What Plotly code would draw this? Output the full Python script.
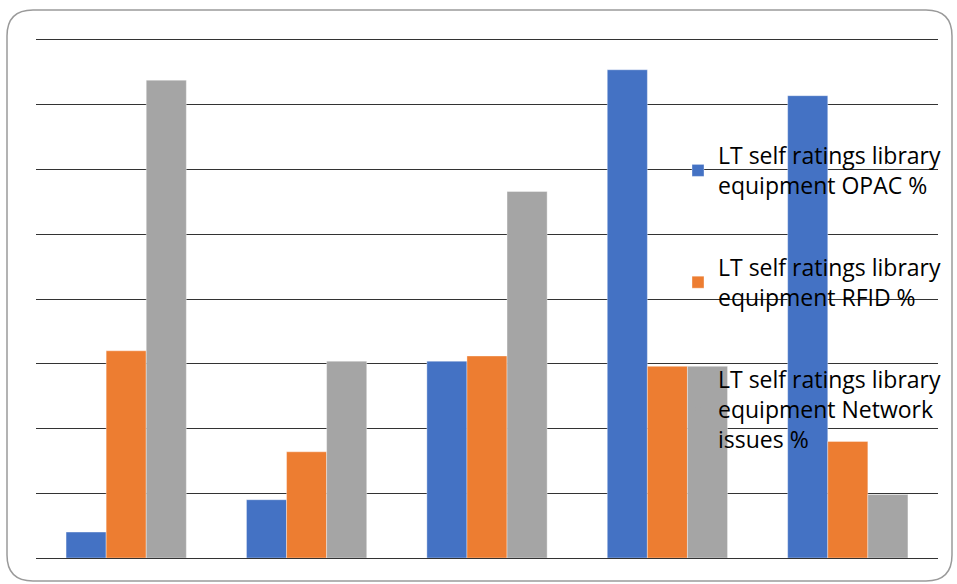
import plotly.graph_objects as go

# Self-rating levels (no tick labels shown on the axis)
levels = ["1", "2", "3", "4", "5"]

opac_pct = [2.0, 4.5, 15.2, 37.7, 35.7]
rfid_pct = [16.0, 8.2, 15.6, 14.8, 9.0]
network_pct = [36.9, 15.2, 28.3, 14.8, 4.9]

series_names = [
    "LT self ratings library<br>equipment OPAC %",
    "LT self ratings library<br>equipment RFID %",
    "LT self ratings library<br>equipment Network<br>issues %",
]
series_colors = ["#4472C4", "#ED7D31", "#A5A5A5"]

W, H = 957, 584
M_L, M_R, M_T, M_B = 36, 19, 40, 26
FONT = dict(family="Open Sans, Lato, Calibri, sans-serif", size=23, color="#000000")

fig = go.Figure()
fig.add_trace(go.Bar(x=levels, y=opac_pct, name=series_names[0],
                     marker=dict(color=series_colors[0], line=dict(color="rgba(255,255,255,0.6)", width=0.6)),
                     legendgroup="opac"))
fig.add_trace(go.Bar(x=levels, y=rfid_pct, name=series_names[1],
                     marker=dict(color=series_colors[1], line=dict(color="rgba(255,255,255,0.6)", width=0.6)),
                     legendgroup="rfid"))
fig.add_trace(go.Bar(x=levels, y=network_pct, name=series_names[2],
                     marker=dict(color=series_colors[2], line=dict(color="rgba(255,255,255,0.6)", width=0.6)),
                     legendgroup="network", showlegend=False))
# Legend entry for the network series is shown as text only
fig.add_trace(go.Scatter(x=[None], y=[None], mode="markers", name=series_names[2],
                         marker=dict(opacity=0, color=series_colors[2]),
                         legendgroup="network", hoverinfo="skip"))

# Rounded outer frame, drawn in paper coordinates
pw = W - M_L - M_R
ph = H - M_T - M_B


def px_x(v):
    return (v - M_L) / pw


def px_y(v):
    return (H - M_B - v) / ph


x0, x1, y0, y1, r = 7, 952, 10, 581, 26
frame = (
    f"M {px_x(x0 + r)},{px_y(y0)} L {px_x(x1 - r)},{px_y(y0)} "
    f"Q {px_x(x1)},{px_y(y0)} {px_x(x1)},{px_y(y0 + r)} "
    f"L {px_x(x1)},{px_y(y1 - r)} Q {px_x(x1)},{px_y(y1)} {px_x(x1 - r)},{px_y(y1)} "
    f"L {px_x(x0 + r)},{px_y(y1)} Q {px_x(x0)},{px_y(y1)} {px_x(x0)},{px_y(y1 - r)} "
    f"L {px_x(x0)},{px_y(y0 + r)} Q {px_x(x0)},{px_y(y0)} {px_x(x0 + r)},{px_y(y0)} Z"
)

fig.update_layout(
    width=W, height=H,
    margin=dict(l=M_L, r=M_R, t=M_T, b=M_B, pad=0, autoexpand=False),
    paper_bgcolor="white", plot_bgcolor="white",
    barmode="group", bargap=1 / 3, bargroupgap=0,
    font=FONT,
    showlegend=True,
    legend=dict(
        x=px_x(678), xanchor="left",
        y=px_y(134), yanchor="top",
        bgcolor="rgba(0,0,0,0)", borderwidth=0,
        traceorder="grouped", tracegroupgap=49,
        font=FONT,
        itemclick=False, itemdoubleclick=False,
    ),
    xaxis=dict(showticklabels=False, ticks="", showgrid=False, zeroline=False,
               showline=True, mirror=True, linecolor="#333333", linewidth=1.3,
               fixedrange=True),
    yaxis=dict(range=[0, 40], dtick=5, showticklabels=False, ticks="",
               showgrid=True, gridcolor="#333333", gridwidth=1.3,
               zeroline=False, showline=False, fixedrange=True),
    shapes=[dict(type="path", xref="paper", yref="paper", path=frame,
                 line=dict(color="#9a9a9a", width=1.5), fillcolor="rgba(0,0,0,0)",
                 layer="below")],
)

fig.write_html("out.html", config={"displayModeBar": False})
